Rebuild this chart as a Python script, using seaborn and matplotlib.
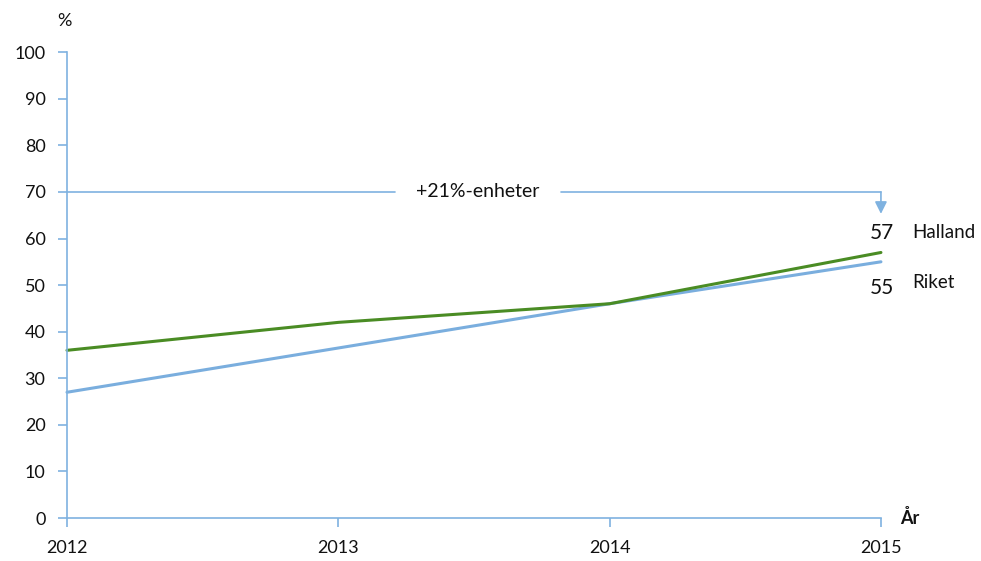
import matplotlib
matplotlib.use("Agg")
import matplotlib.pyplot as plt
import seaborn as sns
import pandas as pd

years = [2012, 2013, 2014, 2015]
halland = [36, 42, 46, 57]
riket = [27, 36.5, 46, 55]
series_names = ["Halland", "Riket"]
yticks = [0, 10, 20, 30, 40, 50, 60, 70, 80, 90, 100]
annot_text = "+21%-enheter"
annot_level = 70

sns.set_theme(style="white")
plt.rcParams['font.family'] = ['Lato', 'DejaVu Sans']

axis_col = "#7fb2e0"
green = "#4a8c24"
blue = "#7aaede"

df = pd.DataFrame({
    "År": years * 2,
    "Värde": halland + riket,
    "Serie": ["Halland"] * 4 + ["Riket"] * 4,
})

fig = plt.figure(figsize=(9.81, 5.61), dpi=100)
ax = fig.add_axes([0.0683, 0.0766, 0.8297, 0.8304])

sns.lineplot(data=df, x="År", y="Värde", hue="Serie",
             palette={"Halland": green, "Riket": blue},
             hue_order=["Riket", "Halland"],
             linewidth=2.2, legend=False, ax=ax, clip_on=False)

ax.set_xlim(2012, 2015)
ax.set_ylim(0, 100)
ax.set_xticks(years)
ax.set_xticklabels([str(y) for y in years])
ax.set_yticks(yticks)
ax.set_xlabel("")
ax.set_ylabel("")

for s in ["top", "right"]:
    ax.spines[s].set_visible(False)
for s in ["left", "bottom"]:
    ax.spines[s].set_color(axis_col)
    ax.spines[s].set_linewidth(1.2)
ax.tick_params(axis="both", colors=axis_col, length=6.5, width=1.2,
               labelcolor="#111111", labelsize=13, direction="out",
               bottom=True, left=True)
ax.tick_params(axis="x", pad=9)
ax.tick_params(axis="y", pad=9)

# annotation line with gap for text
ax.plot([2012, 2013.21], [annot_level, annot_level], color=axis_col, lw=1.2, clip_on=False)
ax.plot([2013.82, 2015], [annot_level, annot_level], color=axis_col, lw=1.2, clip_on=False)
ax.text(2013.515, annot_level, annot_text, ha="center", va="center", fontsize=14, color="#111111")
ax.annotate("", xy=(2015, 65.3), xytext=(2015, annot_level),
            arrowprops=dict(arrowstyle="-|>", color=axis_col, lw=1.2,
                            mutation_scale=18, shrinkA=0, shrinkB=0),
            annotation_clip=False)

# end labels
ax.text(2015.05, 61.2, str(halland[-1]), ha="right", va="center", fontsize=15, color="#111111")
ax.text(2015.115, 61.2, series_names[0], ha="left", va="center", fontsize=13.5, color="#111111")
ax.text(2015.05, 49.4, str(riket[-1]), ha="right", va="center", fontsize=15, color="#111111")
ax.text(2015.115, 50.6, series_names[1], ha="left", va="center", fontsize=13.5, color="#111111")

fig.text(0.058, 0.962, "%", ha="left", va="center", fontsize=13, color="#111111")
fig.text(0.918, 0.077, "År", ha="left", va="center", fontsize=13, fontweight="bold", color="#111111")

fig.savefig("out.png", dpi=100)
